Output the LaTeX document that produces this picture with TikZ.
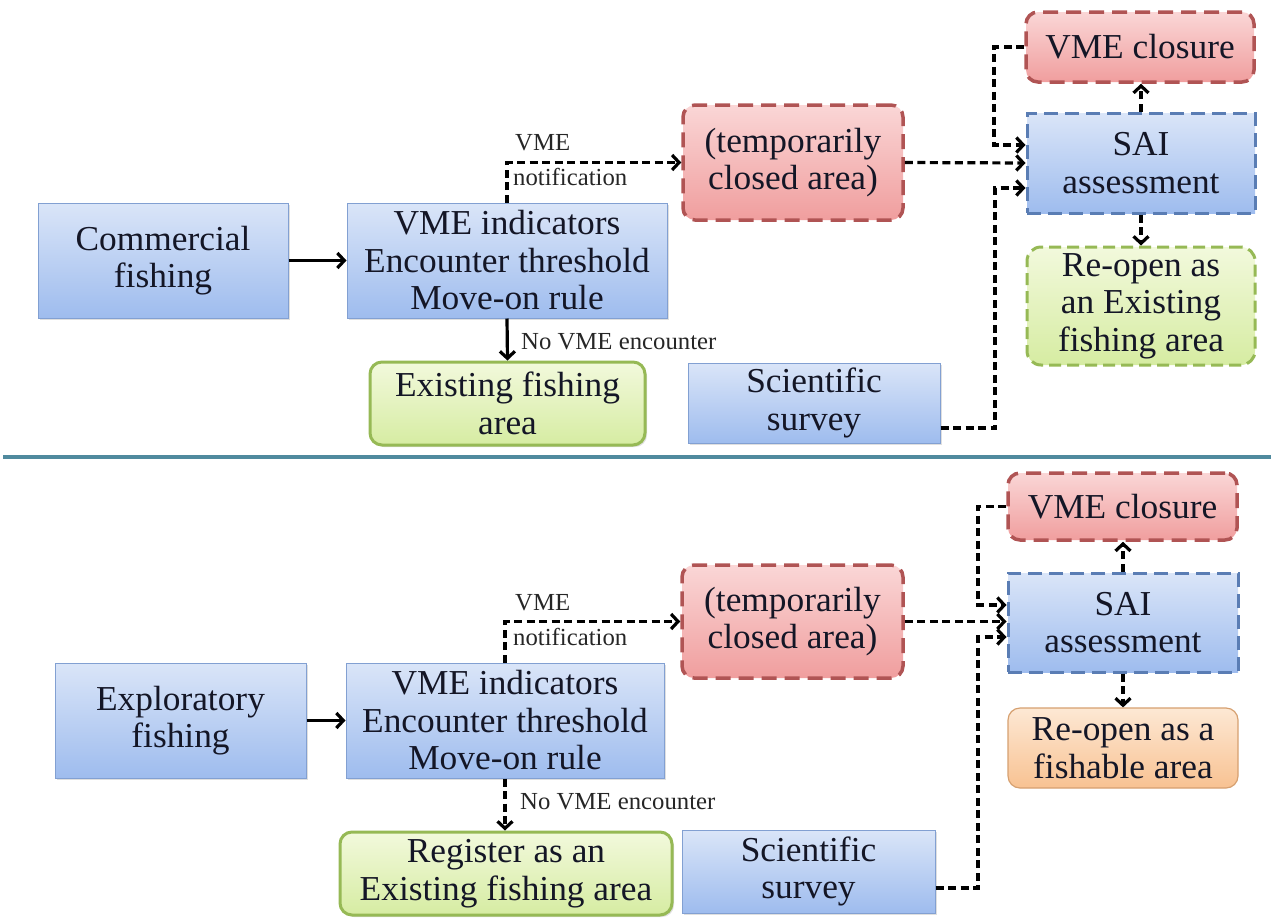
\documentclass[tikz,border=0pt]{standalone}
\usepackage{fontspec}
\setmainfont{Liberation Serif}[FakeStretch=1.01]
\usetikzlibrary{arrows.meta,shadows}
\definecolor{txt}{RGB}{20,22,38}
\definecolor{bluet}{RGB}{218,229,248}
\definecolor{blueb}{RGB}{158,188,238}
\definecolor{bluebd}{RGB}{130,160,210}
\definecolor{bluedash}{RGB}{90,125,180}
\definecolor{redt}{RGB}{250,214,214}
\definecolor{redb}{RGB}{240,158,158}
\definecolor{redbd}{RGB}{176,84,84}
\definecolor{greent}{RGB}{242,249,220}
\definecolor{greenb}{RGB}{214,236,162}
\definecolor{greenbd}{RGB}{150,185,85}
\definecolor{oranget}{RGB}{253,232,212}
\definecolor{orangeb}{RGB}{248,194,146}
\definecolor{orangebd}{RGB}{214,160,112}
\definecolor{sepcol}{RGB}{80,138,158}
\newcommand\bigfs{\fontsize{35}{37.5}\selectfont}
\newcommand\smallfs{\fontsize{24.5}{28}\selectfont}
\tikzset{
  base/.style={align=center, inner sep=0pt, font=\bigfs, text=txt},
  bluebox/.style={base, draw=bluebd, line width=1pt, top color=bluet, bottom color=blueb,
    drop shadow={shadow xshift=2pt, shadow yshift=-2pt, opacity=0.25}},
  saibox/.style={base, draw=bluedash, line width=3pt, dash pattern=on 14pt off 7pt, top color=bluet, bottom color=blueb},
  redbox/.style={base, draw=redbd, line width=3.5pt, dash pattern=on 15pt off 8pt, rounded corners=12pt, top color=redt, bottom color=redb},
  greendash/.style={base, draw=greenbd, line width=3pt, dash pattern=on 12pt off 6pt, rounded corners=14pt, top color=greent, bottom color=greenb},
  greenbox/.style={base, draw=greenbd, line width=3pt, rounded corners=12pt, top color=greent, bottom color=greenb,
    drop shadow={shadow xshift=2pt, shadow yshift=-2pt, opacity=0.25}},
  orangebox/.style={base, draw=orangebd, line width=1.2pt, rounded corners=12pt, top color=oranget, bottom color=orangeb},
  conn/.style={line width=3.2pt, draw=black, -{Straight Barb[length=7pt,width=15pt,line width=3.2pt]}},
  dconn/.style={conn, dash pattern=on 8pt off 4.5pt},
  lbl/.style={font=\smallfs, text=black!85, inner sep=0pt, anchor=west},
}
\begin{document}
\begin{tikzpicture}[x=1pt,y=-1pt]
\useasboundingbox (0,0) rectangle (1271,919);
% ---------- top panel ----------
\node[bluebox, minimum width=250pt, minimum height=115pt] (comm) at (163,260.5) {Commercial\\fishing};
\node[bluebox, minimum width=320pt, minimum height=115pt] (vmei) at (507,260.5) {VME indicators\\Encounter threshold\\Move-on rule};
\node[redbox, minimum width=220pt, minimum height=115pt] (temp) at (793,162.5) {(temporarily\\closed area)};
\node[saibox, minimum width=228pt, minimum height=100pt] (sai) at (1141,163) {SAI\\assessment};
\node[redbox, minimum width=228pt, minimum height=70pt] (clos) at (1140,47) {VME closure};
\node[greendash, minimum width=228pt, minimum height=118pt] (reop) at (1141,306) {Re-open as\\an Existing\\fishing area};
\node[greenbox, minimum width=275pt, minimum height=83pt] (exist) at (507.5,403.5) {Existing fishing\\area};
\node[bluebox, minimum width=252pt, minimum height=80pt] (surv) at (814,403) {Scientific\\survey};
\coordinate (j1) at (994,47);
\coordinate (j2) at (995,428);

\draw[conn] (comm.east) -- (vmei.west);
\draw[dconn] (vmei.north) |- (temp.west);
\node[lbl] (l1) at (515,143) {VME};
\node[lbl] (l2) at (513,177) {notification};
\draw[dconn] (temp.east) -- (sai.west);
\draw[dconn] (clos.west) -- (j1) |- ([yshift=18pt]sai.west);
\draw[dconn] ([yshift=-25pt]surv.east) -- (j2) |- ([yshift=-25pt]sai.west);
\draw[dconn] (sai.north) -- (sai.north |- clos.south);
\draw[dconn] (sai.south) -- (reop.north);
\draw[conn] (vmei.south) -- (exist.north);
\node[lbl] (l3) at (521,342) {No VME encounter};

% ---------- separator ----------
\coordinate (s1) at (3,457);
\coordinate (s2) at (1271,457);
\draw[line width=3.5pt, sepcol] (s1) -- (s2);

% ---------- bottom panel ----------
\node[bluebox, minimum width=251pt, minimum height=115pt] (expl) at (180.5,720.5) {Exploratory\\fishing};
\node[bluebox, minimum width=318pt, minimum height=115pt] (vmeib) at (505,720.5) {VME indicators\\Encounter threshold\\Move-on rule};
\node[redbox, minimum width=221pt, minimum height=113pt] (tempb) at (792.5,621.5) {(temporarily\\closed area)};
\node[saibox, minimum width=230pt, minimum height=99pt] (saib) at (1123,622.5) {SAI\\assessment};
\node[redbox, minimum width=229pt, minimum height=67pt] (closb) at (1122.5,506.5) {VME closure};
\node[orangebox, minimum width=230pt, minimum height=80pt] (reopb) at (1123,748) {Re-open as a\\fishable area};
\node[greenbox, minimum width=332pt, minimum height=83pt] (reg) at (506,873.5) {Register as an\\Existing fishing area};
\node[bluebox, minimum width=253pt, minimum height=83pt] (survb) at (808.5,871.5) {Scientific\\survey};
\coordinate (k1) at (978,506.5);
\coordinate (k2) at (978,888);

\draw[conn] (expl.east) -- (vmeib.west);
\draw[dconn] (vmeib.north) |- (tempb.west);
\node[lbl] (m1) at (515,603) {VME};
\node[lbl] (m2) at (513,637) {notification};
\draw[dconn] (tempb.east) -- (tempb.east -| saib.west);
\draw[dconn] (closb.west) -- (k1) |- ([yshift=17.5pt]saib.west);
\draw[dconn] ([yshift=-16.5pt]survb.east) -- (k2) |- ([yshift=-14.5pt]saib.west);
\draw[dconn] (saib.north) -- (saib.north |- closb.south);
\draw[dconn] (saib.south) -- (reopb.north);
\draw[dconn] (vmeib.south) -- (vmeib.south |- reg.north);
\node[lbl] (m3) at (520,802) {No VME encounter};
\end{tikzpicture}
\end{document}
